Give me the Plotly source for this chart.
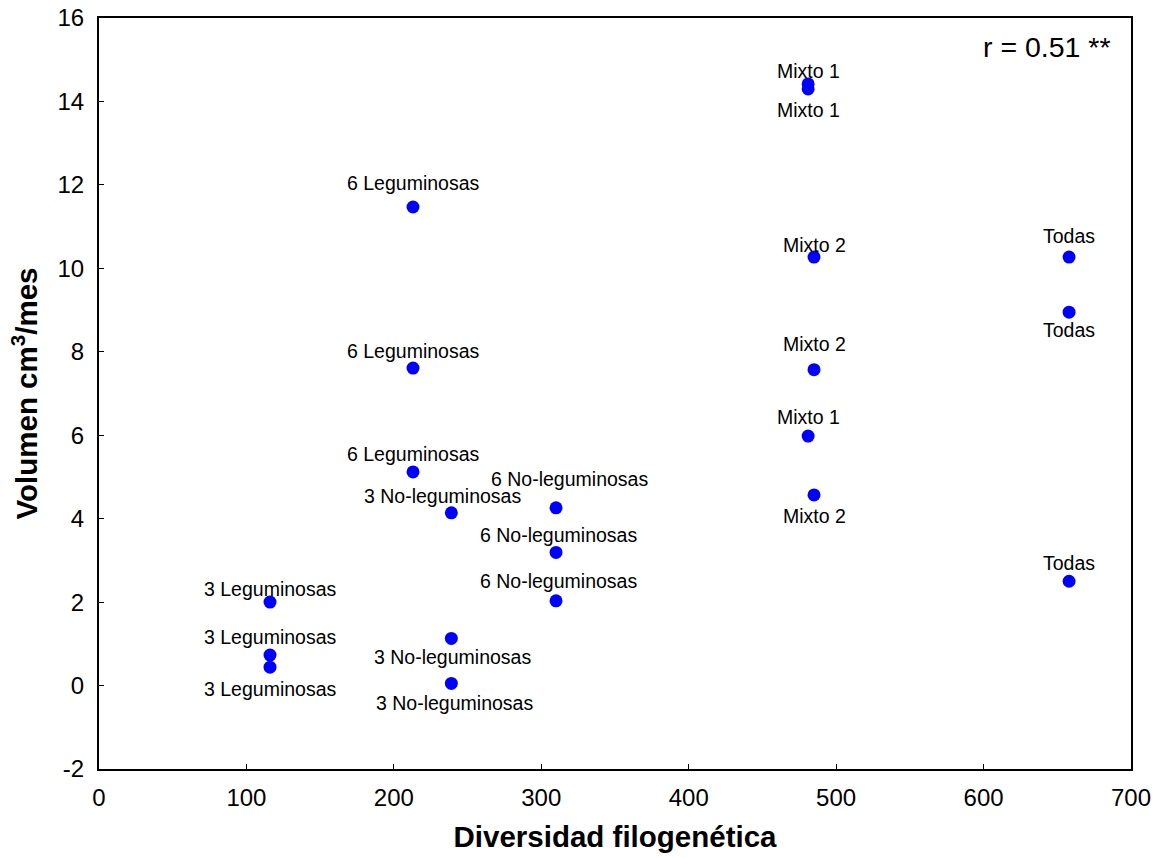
import plotly.graph_objects as go

# Treatment groups and their measurements
groups = [
    "3 Leguminosas", "3 Leguminosas", "3 Leguminosas",
    "6 Leguminosas", "6 Leguminosas", "6 Leguminosas",
    "3 No-leguminosas", "3 No-leguminosas", "3 No-leguminosas",
    "6 No-leguminosas", "6 No-leguminosas", "6 No-leguminosas",
    "Mixto 1", "Mixto 1", "Mixto 1",
    "Mixto 2", "Mixto 2", "Mixto 2",
    "Todas", "Todas", "Todas",
]
diversidad = [
    116, 116, 116,
    213, 213, 213,
    239, 239, 239,
    310, 310, 310,
    481, 481, 481,
    485, 485, 485,
    658, 658, 658,
]
volumen = [
    2.0, 0.73, 0.44,
    11.47, 7.61, 5.12,
    4.14, 1.13, 0.05,
    4.26, 3.19, 2.03,
    14.42, 14.3, 5.98,
    10.27, 7.57, 4.57,
    10.27, 8.95, 2.5,
]
x_ticks = [0, 100, 200, 300, 400, 500, 600, 700]
y_ticks = [-2, 0, 2, 4, 6, 8, 10, 12, 14, 16]
r_text = "r = 0.51 **"

# label offsets in pixels (dx, dy) relative to each point
label_offsets = [
    (0, 13), (0, 18), (0, -22),
    (0, 24), (0, 17), (0, 18),
    (-9, 17), (1, -19), (3, -20),
    (13, 29), (2, 17), (2, 20),
    (0, 13), (0, -21), (0, 19),
    (0, 12), (0, 26), (0, -21),
    (0, 21), (0, -18), (0, 18),
]

FONT = "Liberation Sans, Arial, sans-serif"

fig = go.Figure()
fig.add_trace(go.Scatter(
    x=diversidad, y=volumen, mode="markers",
    marker=dict(color="#0000ff", size=13, line=dict(width=0)),
    showlegend=False, hoverinfo="skip",
))

for g, xv, yv, (dx, dy) in zip(groups, diversidad, volumen, label_offsets):
    fig.add_annotation(
        x=xv, y=yv, text=g, showarrow=False,
        xshift=dx, yshift=dy,
        font=dict(family=FONT, size=19.5, color="black"),
    )

fig.add_annotation(
    x=1, y=1, xref="paper", yref="paper", text=r_text, showarrow=False,
    xanchor="right", yanchor="top", xshift=-18, yshift=-11,
    font=dict(family=FONT, size=28.5, color="black"),
)

axis_common = dict(
    showgrid=False, zeroline=False, showline=True, linecolor="black",
    linewidth=2, mirror=True, ticks="inside", ticklen=5, tickwidth=1,
    tickcolor="black", automargin=False,
    tickfont=dict(family=FONT, size=24, color="black"),
)

fig.update_xaxes(
    range=[0, 700], tickvals=x_ticks, ticktext=[str(v) for v in x_ticks],
    ticklabelstandoff=6,
    title=dict(text="<b>Diversidad filogenética</b>", standoff=17,
               font=dict(family=FONT, size=29.5, color="black")),
    **axis_common,
)
fig.update_yaxes(
    range=[-2, 16], tickvals=y_ticks, ticktext=[str(v) for v in y_ticks],
    ticklabelstandoff=8,
    title=dict(text="<b>Volumen cm<sup>3</sup>/mes</b>", standoff=11,
               font=dict(family=FONT, size=29.5, color="black")),
    **axis_common,
)

fig.update_layout(
    width=1159, height=858,
    margin=dict(l=99, r=28, t=18, b=89),
    plot_bgcolor="white", paper_bgcolor="white",
)

fig.write_html("out.html")
